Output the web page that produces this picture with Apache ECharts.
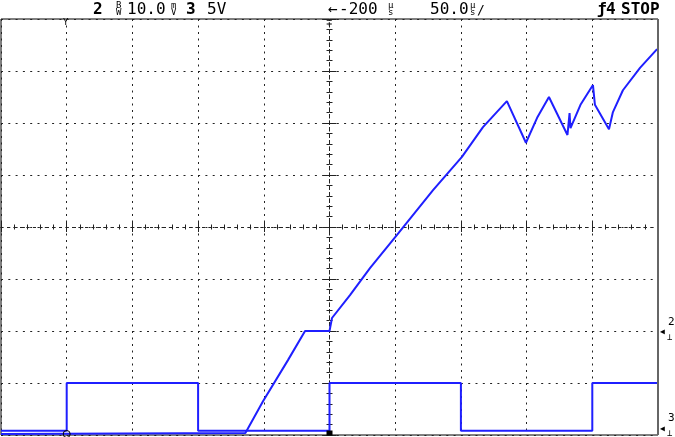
<!DOCTYPE html>
<html><head><meta charset="utf-8">
<script src="https://cdn.jsdelivr.net/npm/echarts@6/dist/echarts.min.js"></script>
<style>html,body{margin:0;padding:0;background:#fff}#c{width:675px;height:437px}</style>
</head><body><div id="c"></div>
<script>
// time axis: microseconds relative to screen centre (50 us/div)
const timeTicks = [-250, -200, -150, -100, -50, 0, 50, 100, 150, 200, 250];
// vertical axis: screen divisions relative to centre
const divTicks = [-4, -3, -2, -1, 0, 1, 2, 3, 4];

// channel 3 : square wave
const ch3Time = [-250, -200, -200, -100, -100, 0, 0, 100, 100, 200, 200, 250];
const ch3Div  = [-3.92, -3.92, -3.0, -3.0, -3.92, -3.92, -3.0, -3.0, -3.92, -3.92, -3.0, -3.0];

// channel 2 : ramp / sawtooth
const ch2Time = [-250, -64, -50.6, -31.6, -18.6, 0, 1.9, 15.6, 30.8, 51.4, 78.8, 100.8, 116.8, 135,
                 149.5, 158, 167, 181.1, 182.7, 183.4, 191, 200.5, 202, 212.7, 215.7, 223.3, 236.3, 249.3];
const ch2Div  = [-3.98, -3.96, -3.35, -2.56, -2.0, -2.0, -1.75, -1.31, -0.79, -0.15, 0.71, 1.35, 1.92, 2.42,
                 1.62, 2.1, 2.5, 1.77, 2.19, 1.9, 2.35, 2.73, 2.35, 1.88, 2.21, 2.63, 3.06, 3.42];

const zip = (a, b) => a.map((v, i) => [v, b[i]]);
const chart = echarts.init(document.getElementById('c'), null, {renderer: 'canvas'});
const dot = '#222';
const mono = '"DejaVu Sans Mono", monospace';
function hdr(text, x, y, size, bold) {
  return {type: 'text', x: x, y: y, silent: true,
    style: {text: text, font: (bold ? 'bold ' : '') + size + 'px ' + mono, fill: '#000', verticalAlign: 'middle'}};
}
const centreX = (pos) => ({
  type: 'value', min: timeTicks[0], max: timeTicks[timeTicks.length - 1], interval: 50, position: pos,
  axisLine: {show: true, onZero: true, onZeroAxisIndex: 0, lineStyle: {color: '#222', width: 1, type: [2, 4.5]}},
  axisTick: {show: true, length: 5, lineStyle: {color: '#222'}},
  minorTick: {show: true, splitNumber: 5, length: 2.5, lineStyle: {color: '#222'}},
  axisLabel: {show: false},
  splitLine: {show: pos === 'bottom', lineStyle: {color: dot, width: 1, type: [2, 4.5]}}
});
const centreY = (pos) => ({
  type: 'value', min: divTicks[0], max: divTicks[divTicks.length - 1], interval: 1, position: pos,
  axisLine: {show: true, onZero: true, onZeroAxisIndex: 0, lineStyle: {color: '#222', width: 1, type: [2, 4.5]}},
  axisTick: {show: true, length: 7, lineStyle: {color: '#222'}},
  minorTick: {show: true, splitNumber: 5, length: 3, lineStyle: {color: '#222'}},
  axisLabel: {show: false},
  splitLine: {show: pos === 'left', lineStyle: {color: dot, width: 1, type: [2, 5.3]}}
});
const blue = '#1f1fff';
chart.setOption({
  animation: false,
  backgroundColor: '#fff',
  grid: {left: 1, right: 17, top: 19, bottom: 2, show: true, borderColor: '#000', borderWidth: 1},
  xAxis: [centreX('bottom'), centreX('top')],
  yAxis: [centreY('left'), centreY('right')],
  series: [
    {type: 'line', name: 'ch3', data: zip(ch3Time, ch3Div), showSymbol: false,
     lineStyle: {color: blue, width: 2}, itemStyle: {color: blue},
     markLine: {silent: true, symbol: 'none', label: {show: false},
       lineStyle: {color: '#666', width: 2, type: 'solid'}, data: [{xAxis: 250}]},
     markPoint: {silent: true, label: {show: false}, data: [
       {coord: [0, -4], symbol: 'rect', symbolSize: [6, 5], symbolOffset: [0, -2], itemStyle: {color: '#000'}},
       {coord: [-200, -4], symbol: 'circle', symbolSize: 7, symbolOffset: [0, -1], itemStyle: {color: 'rgba(0,0,0,0)', borderColor: '#000', borderWidth: 1}}
     ]}},
    {type: 'line', name: 'ch2', data: zip(ch2Time, ch2Div), showSymbol: false,
     lineStyle: {color: blue, width: 2}, itemStyle: {color: blue}}
  ],
  graphic: [
    hdr('2', 93, 10, 16, true),
    hdr('B', 116, 6, 9, false), hdr('W', 116, 13, 9, false),
    hdr('10.0', 127, 10, 16, false),
    hdr('m', 171, 6, 9, false), hdr('V', 171, 13, 9, false),
    hdr('3', 186, 10, 16, true),
    hdr('5V', 207, 10, 16, false),
    hdr('\u2190', 328, 10, 16, false),
    hdr('-200', 339, 10, 16, false),
    hdr('\u00b5', 388, 6, 9, false), hdr('s', 388, 13, 9, false),
    hdr('50.0', 430, 10, 16, false),
    hdr('\u00b5', 470, 6, 9, false), hdr('s', 470, 13, 9, false),
    hdr('/', 477, 11, 13, false),
    hdr('\u0192', 597, 10, 16, true),
    hdr('4', 606, 10, 16, true),
    hdr('STOP', 621, 10, 16, true),
    hdr('Y', 63, 23, 9, false),
    hdr('\u2213', 326, 23, 10, false),
    hdr('\u25c0', 660, 332, 8, false), hdr('2', 668, 322, 11, false), hdr('\u22a5', 667, 338, 9, false),
    hdr('\u25c0', 660, 429, 8, false), hdr('3', 668, 418, 11, false), hdr('\u22a5', 667, 434, 9, false)
  ]
});
</script></body></html>
